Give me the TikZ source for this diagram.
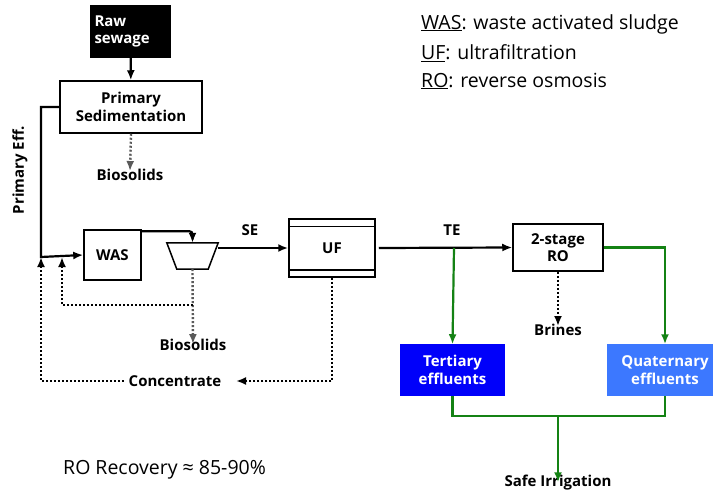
\documentclass[tikz,border=0pt]{standalone}
\usepackage{fontspec}
\setmainfont{Open Sans}
\usetikzlibrary{arrows.meta,positioning,calc,shapes.geometric}
\definecolor{tertblue}{RGB}{0,0,250}
\definecolor{quatblue}{RGB}{60,120,255}
\definecolor{flowgreen}{RGB}{20,130,20}
\definecolor{sludgegray}{RGB}{90,90,90}

\begin{document}
\begin{tikzpicture}[x=1pt,y=-1pt,font=\bfseries\fontsize{15}{17.5}\selectfont,
 box/.style={draw,line width=1.5pt,align=center,inner sep=0pt},
 label/.style={inner sep=1pt},
 legend/.style={anchor=west,inner sep=0pt,font=\fontsize{19.5}{22}\selectfont},
 arrow/.style={-{Latex[length=10pt,width=8pt]},line width=2.2pt},
 greenarrow/.style={arrow,draw=flowgreen},
 dotarrow/.style={arrow,line width=2.4pt,dash pattern=on 2pt off 2pt},
 grayarrow/.style={dotarrow,draw=sludgegray}]
\useasboundingbox (0,0) rectangle (713,495);
% process units
\node[box,fill=black,text=white,minimum width=79pt,minimum height=51pt,align=left,text width=72pt] (raw) at (130.5,31.5) {Raw\\sewage};
\node[box,minimum width=142pt,minimum height=52pt] (prim) at (131,107) {Primary\\Sedimentation};
\node[box,minimum width=57pt,minimum height=50pt] (was) at (112.5,255) {WAS};
\node[minimum width=51pt,minimum height=26pt,inner sep=0pt] (clar) at (192.5,256) {};
\draw[line width=1.5pt] (clar.north west) -- (clar.north east) -- ([xshift=-10pt]clar.south east) -- ([xshift=10pt]clar.south west) -- cycle;
\node[box,minimum width=86pt,minimum height=58pt] (uf) at (332,248) {UF};
\draw[line width=1.5pt] ([yshift=-8pt]uf.north west) -- ([yshift=-8pt]uf.north east);
\draw[line width=1.5pt] ([yshift=8pt]uf.south west) -- ([yshift=8pt]uf.south east);
\node[box,minimum width=90pt,minimum height=47pt] (ro) at (558,247.5) {2-stage\\RO};
\node[box,draw=tertblue,fill=tertblue,text=white,minimum width=103pt,minimum height=50pt] (tert) at (452.5,370) {Tertiary\\effluents};
\node[box,draw=quatblue,fill=quatblue,text=white,minimum width=114pt,minimum height=50pt] (quat) at (665,370) {Quaternary\\effluents};

% text labels
\node[label] (bios1) at (130,175) {Biosolids};
\node[label] (bios2) at (193,345) {Biosolids};
\node[label] (brines) at (558,330) {Brines};
\node[label] (conc) at (175,381) {Concentrate};
\node[label] (irrig) at (558,483) {Safe Irrigation};
\node[label] (se) at (250,230) {SE};
\node[label] (te) at (452,230) {TE};
\node[label,rotate=90] (peff) at (20,170) {Primary Eff.};
\node[legend] (lwas) at (421,24) {\underline{WAS}: waste activated sludge};
\node[legend] (luf) at (421,53) {\underline{UF}: ultrafiltration};
\node[legend] (lro) at (421,81) {\underline{RO}: reverse osmosis};
\node[legend] (rec) at (63,470) {RO Recovery ≈ 85-90\%};

% junction points
\coordinate (pjoin) at (41,257);
\coordinate (wjoin) at (62,257);
\coordinate (sludge) at (193,305);
\coordinate (concin) at (236,381);
\coordinate (tebr) at (454,248);
\coordinate (merge) at (558,416);

% main line
\draw[arrow] (raw) -- (prim);
\draw[grayarrow] (prim.south) -- ([yshift=-3pt]bios1.north);
\draw[arrow] (prim.west) -| (pjoin) -- (was.west);
\draw[arrow,rounded corners=3pt] ([yshift=-2pt]was.north east) -| (clar.north);
\draw[arrow] (clar.east |- uf.west) -- (uf.west);
\draw[arrow] ([xshift=3pt]uf.east) -- (ro.west);
\draw[dotarrow] (ro.south) -- ([yshift=-3pt]brines.north);

% recycle lines
\draw[grayarrow] (clar.south) -- ([yshift=-6pt]bios2.north);
\draw[dotarrow] (sludge) -| (wjoin);
\draw[dotarrow] (uf.south) |- (concin);
\draw[dotarrow] ([xshift=-4pt]conc.west) -| (pjoin);

% effluents
\draw[greenarrow] (tebr) -- (tert.north);
\draw[greenarrow] (ro.east) -| (quat.north);
\draw[line width=2.2pt,draw=flowgreen] (tert.south) |- (merge) -| (quat.south);
\draw[greenarrow] (merge) -- ([yshift=-8pt]irrig.north);
\end{tikzpicture}
\end{document}
